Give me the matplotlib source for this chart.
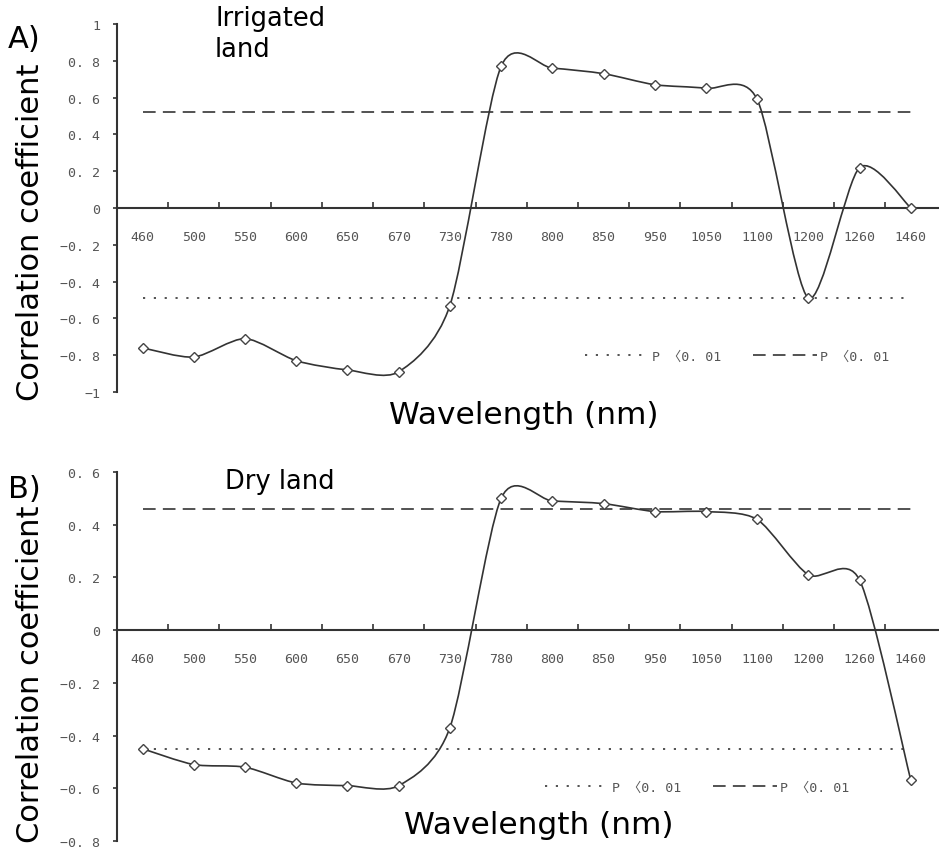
import matplotlib
matplotlib.use("Agg")
import matplotlib.pyplot as plt
from matplotlib.path import Path
from matplotlib.patches import PathPatch
from matplotlib.font_manager import FontProperties

# wavelength bands (categorical x axis)
wavelengths = ["460", "500", "550", "600", "650", "670", "730", "780",
               "800", "850", "950", "1050", "1100", "1200", "1260", "1460"]

# correlation coefficients
irrigated_r = [-0.76, -0.81, -0.71, -0.83, -0.88, -0.89, -0.53, 0.77,
               0.76, 0.73, 0.67, 0.65, 0.59, -0.49, 0.22, 0.0]
dry_r = [-0.45, -0.51, -0.52, -0.58, -0.59, -0.59, -0.37, 0.50,
         0.49, 0.48, 0.45, 0.45, 0.42, 0.21, 0.19, -0.57]

# significance thresholds (P < 0.01)
irrigated_thr = (-0.49, 0.52)
dry_thr = (-0.45, 0.46)

irrigated_yticks = [-1, -0.8, -0.6, -0.4, -0.2, 0, 0.2, 0.4, 0.6, 0.8, 1]
irrigated_ylabels = ["−1", "−0. 8", "−0. 6", "−0. 4", "−0. 2", "0",
                     "0. 2", "0. 4", "0. 6", "0. 8", "1"]
dry_yticks = [-0.8, -0.6, -0.4, -0.2, 0, 0.2, 0.4, 0.6]
dry_ylabels = ["−0. 8", "−0. 6", "−0. 4", "−0. 2", "0", "0. 2", "0. 4", "0. 6"]

line_col = "#333333"
tick_col = "#555555"
mono = "DejaVu Sans Mono"


def smooth_path(xs, ys, t=0.13):
    # Excel-like smoothed line as cubic Bezier segments
    verts = [(xs[0], ys[0])]
    codes = [Path.MOVETO]
    n = len(xs)
    for i in range(n - 1):
        x0, y0 = (xs[i - 1], ys[i - 1]) if i > 0 else (xs[i], ys[i])
        x3, y3 = (xs[i + 2], ys[i + 2]) if i + 2 < n else (xs[i + 1], ys[i + 1])
        c1 = (xs[i] + (xs[i + 1] - x0) * t, ys[i] + (ys[i + 1] - y0) * t)
        c2 = (xs[i + 1] - (x3 - xs[i]) * t, ys[i + 1] - (y3 - ys[i]) * t)
        verts += [c1, c2, (xs[i + 1], ys[i + 1])]
        codes += [Path.CURVE4] * 3
    return Path(verts, codes)


def draw_panel(ax, values, thr, yticks, ylabels, ylim, legend_xy):
    x = list(range(len(wavelengths)))
    ax.add_patch(PathPatch(smooth_path(x, values), fill=False,
                           edgecolor=line_col, lw=1.2, zorder=3))
    ax.plot(x, values, linestyle="none", marker="D", ms=5,
            mfc="white", mec="#444444", mew=1.0, zorder=4)

    dot, = ax.plot([x[0], x[-1]], [thr[0], thr[0]], color="#444444", lw=1.3)
    dot.set_dashes((1.2, 4.8))
    dash, = ax.plot([x[0], x[-1]], [thr[1], thr[1]], color="#444444", lw=1.3)
    dash.set_dashes((7, 4))

    ax.set_xlim(-0.5, len(wavelengths) - 0.45)
    ax.set_ylim(*ylim)
    for s in ["top", "right"]:
        ax.spines[s].set_visible(False)
    ax.spines["bottom"].set_position(("data", 0))
    ax.spines["bottom"].set_color(line_col)
    ax.spines["bottom"].set_linewidth(1.5)
    ax.spines["left"].set_color(line_col)
    ax.spines["left"].set_linewidth(1.5)

    ax.set_xticks(x)
    ax.set_xticklabels(wavelengths, fontfamily=mono, fontsize=9.5,
                       color=tick_col)
    ax.set_xticks([i + 0.5 for i in x[:-1]], minor=True)
    ax.tick_params(axis="x", which="major", length=0, pad=16)
    ax.tick_params(axis="x", which="minor", direction="in", length=4,
                   width=1.2, color=line_col)

    ax.set_yticks(yticks)
    ax.set_yticklabels(ylabels, fontfamily=mono, fontsize=9.5, color=tick_col)
    ax.tick_params(axis="y", direction="out", length=3, width=1.2,
                   color=line_col, pad=9)

    ax.legend([dot, dash], ["P 〈0. 01", "P 〈0. 01"], ncol=2, frameon=False,
              loc="center left", bbox_to_anchor=legend_xy,
              bbox_transform=fig.transFigure, borderpad=0, borderaxespad=0,
              handlelength=4.8, handletextpad=0.3, columnspacing=2.4,
              prop=FontProperties(family=[mono, "Noto Sans CJK SC"], size=9.5),
              labelcolor=tick_col)


W, H = 939, 853
fig = plt.figure(figsize=(W / 100, H / 100), dpi=100)

ax_a = fig.add_axes([117 / W, 1 - 393 / H, 1 - 117 / W, (393 - 25) / H])
ax_b = fig.add_axes([117 / W, 1 - 842 / H, 1 - 117 / W, (842 - 473) / H])

draw_panel(ax_a, irrigated_r, irrigated_thr, irrigated_yticks,
           irrigated_ylabels, (-1, 1), (585 / W, 1 - 357 / H))
draw_panel(ax_b, dry_r, dry_thr, dry_yticks, dry_ylabels,
           (-0.8, 0.6), (545 / W, 1 - 788 / H))

fs = 22
fig.text(31 / W, 1 - 232 / H, "Correlation coefficient", rotation=90,
         ha="center", va="center", fontsize=fs)
fig.text(31 / W, 1 - 674 / H, "Correlation coefficient", rotation=90,
         ha="center", va="center", fontsize=fs)
fig.text(524 / W, 1 - 416 / H, "Wavelength (nm)", ha="center", va="center",
         fontsize=22.5)
fig.text(539 / W, 1 - 826 / H, "Wavelength (nm)", ha="center", va="center",
         fontsize=22.5)
fig.text(8 / W, 1 - 40 / H, "A)", ha="left", va="center", fontsize=fs)
fig.text(8 / W, 1 - 490 / H, "B)", ha="left", va="center", fontsize=fs)
fig.text(215 / W, 1 - 6 / H, "Irrigated\nland", ha="left", va="top",
         fontsize=18.5, linespacing=1.25)
fig.text(225 / W, 1 - 482 / H, "Dry land", ha="left", va="center",
         fontsize=18.5)

fig.savefig("out.png", dpi=100)
